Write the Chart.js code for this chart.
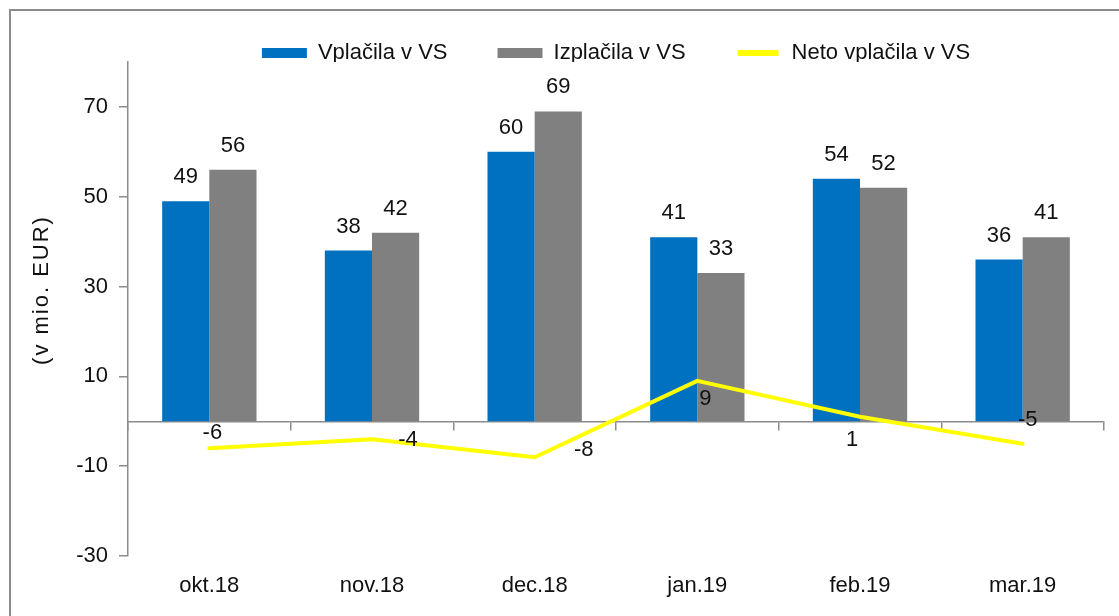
<!DOCTYPE html>
<html>
<head>
<meta charset="utf-8">
<script src="https://cdn.jsdelivr.net/npm/chart.js@4.4.1/dist/chart.umd.min.js"></script>
<style>
  html, body { margin: 0; padding: 0; background: #fff; overflow: hidden; }
  #wrap { position: relative; width: 1119px; height: 616px; overflow: hidden; }
  #frame { position: absolute; left: 9px; top: 9px; width: 1200px; height: 700px; border: 2px solid #8c8c8c; }
  canvas { position: absolute; left: 0; top: 0; }
</style>
</head>
<body>
<div id="wrap">
  <div id="frame"></div>
  <canvas id="flowChart" width="1119" height="616"></canvas>
</div>
<script>
/* ===== Data ===== */
const months = ['okt.18', 'nov.18', 'dec.18', 'jan.19', 'feb.19', 'mar.19'];
const vplacila = [49, 38, 60, 41, 54, 36];
const izplacila = [56, 42, 69, 33, 52, 41];
const neto = [-6, -4, -8, 9, 1, -5];
const yTicks = [-30, -10, 10, 30, 50, 70];
const yTitle = '(v mio. EUR)';

const FONT = { family: '"Liberation Sans", Arial, sans-serif', size: 22 };
const TEXT = '#111';
const AXIS = '#8c8c8c';

// where each net label sits relative to its point (Excel-like placement)
const netoLabelShift = [[3, -15], [36, 1], [49, -7], [8, 18], [-8, 23], [5, -24]];

/* ===== Value labels on bars and line ===== */
const valueLabels = {
  id: 'valueLabels',
  afterDatasetsDraw(chart) {
    const ctx = chart.ctx;
    ctx.save();
    ctx.font = FONT.size + 'px ' + FONT.family;
    ctx.fillStyle = TEXT;
    ctx.textAlign = 'center';
    chart.data.datasets.forEach((ds, di) => {
      const meta = chart.getDatasetMeta(di);
      meta.data.forEach((el, i) => {
        const v = ds.data[i];
        if (ds.type === 'line') {
          const [dx, dy] = netoLabelShift[i];
          ctx.textBaseline = 'middle';
          ctx.fillText(String(v), el.x + dx, el.y + dy);
        } else {
          ctx.textBaseline = 'alphabetic';
          ctx.fillText(String(v), el.x, el.y - 18);
        }
      });
    });
    ctx.restore();
  }
};

/* ===== Rotated y title, a bit spaced out like the original ===== */
const axisTitle = {
  id: 'axisTitle',
  afterDraw(chart) {
    const ctx = chart.ctx;
    ctx.save();
    ctx.translate(42, 290);
    ctx.rotate(-Math.PI / 2);
    ctx.font = FONT.size + 'px ' + FONT.family;
    ctx.letterSpacing = '2px';
    ctx.fillStyle = TEXT;
    ctx.textAlign = 'center';
    ctx.textBaseline = 'middle';
    ctx.fillText(yTitle, 0, 0);
    ctx.restore();
  }
};

const ctx = document.getElementById('flowChart').getContext('2d');

new Chart(ctx, {
  type: 'bar',
  data: {
    labels: months,
    datasets: [
      { label: 'Vplačila v VS', data: vplacila, backgroundColor: '#0070C0', order: 1,
        barPercentage: 1, categoryPercentage: 0.58 },
      { label: 'Izplačila v VS', data: izplacila, backgroundColor: '#808080', order: 1,
        barPercentage: 1, categoryPercentage: 0.58 },
      { type: 'line', label: 'Neto vplačila v VS', data: neto, borderColor: '#FFFF00',
        backgroundColor: '#FFFF00', borderWidth: 4, pointRadius: 0, tension: 0,
        borderCapStyle: 'round', borderJoinStyle: 'round', order: 0 }
    ]
  },
  options: {
    responsive: false,
    animation: false,
    layout: { padding: { top: -8, left: 0, right: 15, bottom: 0 } },
    plugins: {
      tooltip: { enabled: false },
      legend: {
        position: 'top',
        fullSize: false,
        maxHeight: 70,
        labels: {
          font: FONT, color: TEXT, boxWidth: 45, boxHeight: 10, padding: 50,
          generateLabels: chart => chart.data.datasets.map((ds, i) => ({
            text: ds.label,
            fillStyle: ds.type === 'line' ? ds.borderColor : ds.backgroundColor,
            strokeStyle: '#fff',
            lineWidth: ds.type === 'line' ? 4 : 0,
            fontColor: TEXT,
            hidden: false,
            datasetIndex: i
          }))
        }
      }
    },
    scales: {
      x: {
        offset: true,
        grid: { display: false, drawTicks: false },
        border: { display: false },
        ticks: { font: FONT, color: TEXT, padding: 17, maxRotation: 0, autoSkip: false },
        afterFit: s => { s.height = 60; }
      },
      x0: {
        type: 'category',
        position: { y: 0 },
        offset: true,
        grid: { offset: true, drawOnChartArea: false, tickLength: 8, color: AXIS, lineWidth: 1.5 },
        border: { color: AXIS, width: 1.5 },
        ticks: { display: false }
      },
      y: {
        min: -30,
        max: 80,
        afterBuildTicks: s => { s.ticks = yTicks.map(v => ({ value: v })); },
        afterFit: s => { s.width = 128; },
        grid: { drawOnChartArea: false, tickLength: 9, color: AXIS, lineWidth: 1.5 },
        border: { color: AXIS, width: 1.5 },
        ticks: { font: FONT, color: TEXT, padding: 11 }
      }
    }
  },
  plugins: [valueLabels, axisTitle]
});
</script>
</body>
</html>
